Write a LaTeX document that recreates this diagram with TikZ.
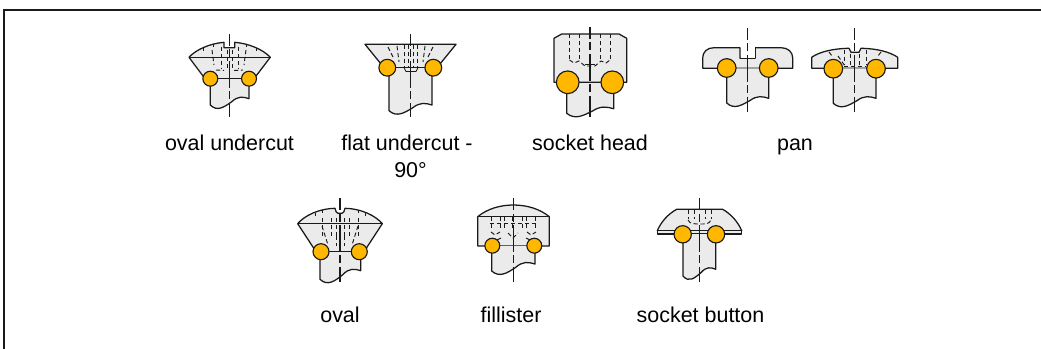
\documentclass[tikz,border=0pt]{standalone}
\usepackage{fontspec}
\setmainfont{Liberation Sans}
\definecolor{partfill}{HTML}{EBEBEB}
\definecolor{weld}{HTML}{FFB700}
\definecolor{ink}{HTML}{1A1A1A}
\tikzset{
  part/.style={draw=ink,fill=partfill,line width=0.95pt,line join=round},
  outl/.style={draw=ink,line width=0.95pt},
  hid/.style={draw=ink,line width=0.7pt,dash pattern=on 3.2pt off 2pt},
  axisline/.style={draw=ink,line width=0.8pt,dash pattern=on 20pt off 2.6pt on 6pt off 2.6pt,dash phase=11pt},
  bead/.style={circle,draw=ink,fill=weld,line width=0.85pt,inner sep=0pt},
  captext/.style={font=\fontsize{16.1pt}{19pt}\selectfont,text=black,anchor=base,inner sep=0pt},
}
% shank: x left, x right, y top, y bottom-left, y bottom-right
\newcommand{\shankpart}[5]{%
  \path[part] (#1,#3) -- (#1,#4)
    .. controls ({#1+0.18*(#2-#1)},{#4+7}) and ({#1+0.36*(#2-#1)},{#4+2}) .. ({#1+0.55*(#2-#1)},{0.5*(#4+#5)})
    .. controls ({#1+0.72*(#2-#1)},{#5-3}) and ({#1+0.85*(#2-#1)},{#5-2}) .. (#2,#5) -- (#2,#3);
}
\begin{document}
\begin{tikzpicture}[x=0.75pt,y=-0.75pt]
\useasboundingbox (0,0) rectangle (1041,349);
\path[fill=white] (0,0) rectangle (1041,349);
% frame
\draw[draw=ink,line width=0.8pt] (4,349) -- (4,10) -- (1041,10);

% ---------- oval undercut
\path[part] (189,57.3) .. controls (196,49.5) and (210,43.5) .. (224,42.3) -- (224,47.7) -- (234.7,47.7) -- (234.7,42.3)
  .. controls (249,43.5) and (263,49.5) .. (270.3,57.3) -- (254,78.7) -- (205,78.7) -- cycle;
\shankpart{210.3}{249}{78.7}{105}{98.7}
\draw[outl] (189,57.3) -- (270.3,57.3);
\draw[outl] (210.3,78.7) -- (249,78.7);
\foreach \x/\a/\b in {203/48/51,213/44/47,246/44/47,256/48/51}{\draw[outl,line width=0.6pt] (\x,\a) -- (\x,\b);}
\draw[hid] (212,50) -- (214,65);
\draw[hid] (221,47) -- (221,68);
\draw[hid] (227,50) -- (227,70);
\draw[hid] (232,50) -- (232,70);
\draw[hid] (238,47) -- (238,68);
\draw[hid] (246,50) -- (244,65);
\draw[hid] (216,70) .. controls (219,70.5) and (221,70) .. (224,70.5);
\draw[hid] (234,70.5) .. controls (237,70) and (240,70.5) .. (243,70);
\draw[axisline] (229.3,34) -- (229.3,117);
\node[bead,minimum size=11.2pt] (a1) at (210.3,78.7) {};
\node[bead,minimum size=11.2pt] (a2) at (249,78.7) {};

% ---------- flat undercut
\path[part] (365,44.3) -- (456,44.3) -- (437,67.7) -- (384,67.7) -- cycle;
\shankpart{389}{432}{67.7}{110.7}{105}
\draw[outl] (385,67.7) -- (436,67.7);
\draw[outl,line width=0.6pt] (404,67.7) -- (406,71.5) -- (416,71.5) -- (418,67.7);
\foreach \x in {404,408,413,417}{\draw[hid] (\x,45) -- (\x,67);}
\draw[hid] (397,46) -- (399,62);
\draw[hid] (425,46) -- (423,62);
\draw[hid] (388,47) -- (393,57);
\draw[hid] (433,47) -- (428,57);
\draw[axisline] (410.3,34) -- (410.3,117);
\node[bead,minimum size=12.6pt] (b1) at (387.3,67.7) {};
\node[bead,minimum size=12.6pt] (b2) at (433.3,67.7) {};

% ---------- socket head
\path[part] (561.7,34) -- (619,34) -- (626.7,38.3) -- (626.7,82.3) -- (554,82.3) -- (554,38.3) -- cycle;
\shankpart{566.7}{613.7}{82.3}{113.3}{108.7}
\draw[outl] (567,82.3) -- (613,82.3);
\foreach \x in {569.5,579,600.5,610}{\draw[hid] (\x,34) -- (\x,59);}
\draw[hid] (569.5,60) -- (574,63) -- (579,61) -- (585,66) -- (595,66) -- (601,61) -- (606,63) -- (610,60);
\draw[outl,line width=0.6pt] (585,64) -- (595,64);
\draw[axisline] (590,27) -- (590,117);
\node[bead,minimum size=17pt] (c1) at (567.7,82.3) {};
\node[bead,minimum size=17pt] (c2) at (612.3,82.3) {};

% ---------- pan slotted
\path[part] (702.7,68.3) -- (702.7,58) .. controls (702.7,52) and (707,47.7) .. (714,47.7) -- (740,47.7) -- (740,58.3) -- (755.3,58.3) -- (755.3,47.7) -- (781,47.7)
  .. controls (788,47.7) and (792.7,52) .. (792.7,58) -- (792.7,68.3) -- cycle;
\path[fill=white] (740.5,47) rectangle (754.8,57.8);
\shankpart{726.7}{768.7}{68.3}{103}{98.3}
\draw[axisline] (747.3,28) -- (747.3,112.3);
\node[bead,minimum size=14pt] (d1) at (726.7,68) {};
\node[bead,minimum size=14pt] (d2) at (768.7,68) {};

% ---------- pan recessed
\path[part] (811.7,68.3) -- (811.7,57.3) .. controls (819,52) and (833,48.5) .. (849,48.3) -- (851,52.3) -- (859,52.3) -- (861,48.3)
  .. controls (877,48.5) and (890,52) .. (897.7,57.3) -- (897.7,68.3) -- cycle;
\shankpart{833.3}{876}{68.3}{103.3}{98.3}
\draw[hid] (844,50) -- (844,64);
\draw[hid] (850,54) -- (850,66);
\draw[hid] (859,54) -- (859,66);
\draw[hid] (866,50) -- (866,64);
\draw[hid] (844,66) -- (866,66);
\draw[hid] (829,52) -- (832,56);
\draw[hid] (881,52) -- (878,56);
\draw[hid] (838,56) -- (845,66);
\draw[axisline] (854.7,28) -- (854.7,112.3);
\node[bead,minimum size=14pt] (e1) at (833.3,68.7) {};
\node[bead,minimum size=14pt] (e2) at (876,68.7) {};

% ---------- oval
\path[part] (297.7,223.7) .. controls (305,215) and (320,208.5) .. (335,208.3) .. controls (336,211) and (336,213.3) .. (338,213.3) -- (342,213.3) .. controls (344,213.3) and (344,211) .. (345,208.3)
  .. controls (360,208.5) and (375,215) .. (382.3,223.7) -- (364,251.7) -- (316,251.7) -- cycle;
\shankpart{320}{360.7}{251.7}{279.3}{270.7}
\draw[outl] (297.7,223.7) -- (382.3,223.7);
\draw[outl] (321,251.7) -- (359,251.7);
\foreach \x/\a/\b in {315/213/216,322/210/213,358/210/213,365/213/216}{\draw[outl,line width=0.6pt] (\x,\a) -- (\x,\b);}
\foreach \x in {322,331,336,344,349,358}{\draw[hid] (\x,218) -- (\x,236);}
\draw[hid] (322,226) -- (328,245);
\draw[hid] (358,226) -- (352,245);
\draw[hid] (336,236) -- (336,246);
\draw[hid] (344,236) -- (344,246);
\draw[axisline] (340,198.3) -- (340,281.7);
\node[bead,minimum size=12pt] (f1) at (321,251.7) {};
\node[bead,minimum size=12pt] (f2) at (359.3,251.7) {};

% ---------- fillister
\path[part] (477.7,216.7) .. controls (487,209) and (500,205) .. (513.3,205) .. controls (527,205) and (540,209) .. (549.3,216.7) -- (549.3,246) -- (477.7,246) -- cycle;
\shankpart{491.7}{535}{246}{271}{264}
\draw[outl] (477.7,216.7) -- (549.3,216.7);
\draw[hid] (490,223) -- (537,223);
\foreach \x in {491,500,504,512,522,526,535}{\draw[hid] (\x,217) -- (\x,230);}
\draw[hid] (491,232) -- (495,235) -- (500,232);
\draw[hid] (508,233) -- (513,238) -- (518,233);
\draw[hid] (527,232) -- (531,235) -- (536,232);
\draw[hid] (497,240) -- (503,237);
\draw[hid] (530,240) -- (524,237);
\draw[axisline] (513.3,198.3) -- (513.3,281.7);
\node[bead,minimum size=11.2pt] (g1) at (492.3,245.7) {};
\node[bead,minimum size=11.2pt] (g2) at (534.3,245.7) {};

% ---------- socket button
\path[part] (676.7,209.3) -- (722.7,209.3) .. controls (731,214) and (738,222) .. (741.7,230.7) -- (657.3,230.7) .. controls (661,222) and (668,214) .. (676.7,209.3) -- cycle;
\path[part] (657.3,230.7) rectangle (741.7,234);
\shankpart{683}{715.7}{234}{276}{269.3}
\foreach \x in {688,694,705,711}{\draw[hid] (\x,210) -- (\x,219);}
\draw[hid] (688,220) .. controls (690,224) and (694,224) .. (697,224) -- (702,224) .. controls (706,224) and (709,224) .. (711,220);
\draw[axisline] (699.3,198.3) -- (699.3,281.7);
\node[bead,minimum size=13pt] (h1) at (682.7,234.3) {};
\node[bead,minimum size=13pt] (h2) at (716,234.3) {};

% ---------- captions
\node[captext] (t1) at (229.5,151) {oval undercut};
\node[captext] (t2) at (407,151) {flat undercut -};
\node[captext] (t2b) at (410.5,177.3) {90°};
\node[captext] (t3) at (590,151) {socket head};
\node[captext] (t4) at (795,151) {pan};
\node[captext] (t5) at (340,322) {oval};
\node[captext] (t6) at (511,322) {fillister};
\node[captext] (t7) at (700.5,322) {socket button};
\end{tikzpicture}
\end{document}
